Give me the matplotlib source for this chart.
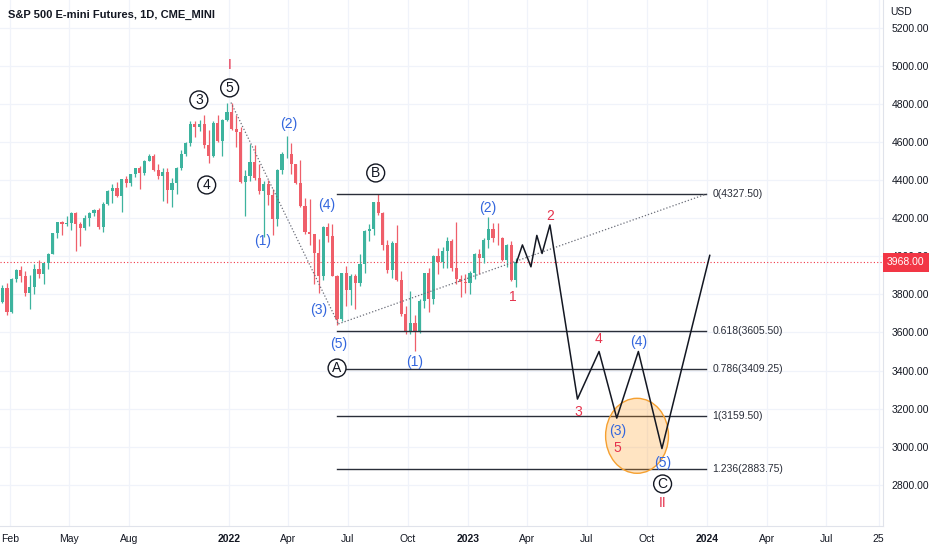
import matplotlib
matplotlib.use('Agg')
import matplotlib.pyplot as plt
import matplotlib.dates as mdates
from matplotlib.patches import Ellipse
import numpy as np
import pandas as pd

plt.rcParams['font.family'] = ['Liberation Sans', 'DejaVu Sans']

# weekly bars (week starting 2021-01-11); open = previous close
first_open = 3800
highs_2021 = [3823, 3850, 3858, 3885, 3934, 3950, 3925, 3903, 3959, 3979, 3966, 4017, 4123,
              4180, 4186, 4211, 4234, 4235, 4182, 4215, 4231, 4249, 4256, 4283, 4348, 4382,
              4393, 4407, 4424, 4433, 4464, 4475, 4506, 4540, 4537, 4486, 4462, 4465, 4410,
              4470, 4557, 4600, 4713, 4713, 4717, 4743, 4666, 4710, 4741, 4723, 4804]
lows_2021 = [3749, 3757, 3694, 3700, 3867, 3864, 3789, 3723, 3801, 3888, 3853, 3935, 4010,
             4098, 4110, 4161, 4140, 4029, 4054, 4138, 4161, 4213, 4146, 4130, 4270, 4279,
             4311, 4233, 4364, 4372, 4416, 4355, 4428, 4500, 4448, 4405, 4290, 4278, 4260,
             4328, 4453, 4527, 4580, 4628, 4659, 4569, 4492, 4523, 4600, 4528, 4713]
closes_2021 = [3762, 3833, 3707, 3880, 3929, 3899, 3808, 3837, 3932, 3906, 3965, 4014, 4122,
               4178, 4172, 4176, 4226, 4168, 4150, 4202, 4226, 4243, 4155, 4276, 4345, 4361,
               4319, 4404, 4387, 4432, 4463, 4436, 4503, 4529, 4454, 4422, 4443, 4348, 4385,
               4463, 4537, 4596, 4693, 4679, 4694, 4586, 4528, 4703, 4608, 4717, 4758]
highs_2022 = [4808, 4745, 4680, 4452, 4591, 4587, 4487, 4397, 4402, 4352, 4460, 4546, 4631,
              4593, 4483, 4508, 4306, 4303, 4120, 4090, 4159, 4177, 4168, 3900, 3913, 3949,
              3905, 3905, 4010, 4140, 4172, 4288, 4327.5, 4232, 4085, 4078, 4163, 3925, 3737,
              3820, 3690, 3776, 3914, 3938, 4009, 4044, 4050, 4100, 4090, 4180, 3900, 3905]
lows_2022 = [4662, 4577, 4385, 4212, 4395, 4402, 4330, 4101, 4270, 4114, 4157, 4431, 4517,
             4432, 4380, 4259, 4120, 4057, 3855, 3807, 3874, 4073, 3895, 3639, 3660, 3738,
             3743, 3722, 3846, 3913, 4080, 4110, 4218, 4032, 3910, 3885, 3870, 3685, 3594,
             3590, 3502, 3596, 3729, 3707, 3747, 3906, 3937, 3938, 3923, 3853, 3788, 3805]
closes_2022 = [4670, 4655, 4389, 4422, 4494, 4410, 4342, 4378, 4321, 4198, 4456, 4536, 4537,
               4483, 4387, 4265, 4128, 4118, 4020, 3899, 4155, 4106, 3898, 3669, 3910, 3823,
               3897, 3860, 3960, 4131, 4146, 4287, 4230, 4061, 3930, 4069, 3878, 3699, 3601,
               3652, 3600, 3765, 3911, 3778, 4000, 3972, 4030, 4078, 3940, 3880, 3867, 3861]
highs_2023 = [3925, 4015, 4038, 4094, 4208, 4175, 4175, 4100, 4065, 4079, 3990]
lows_2023 = [3802, 3880, 3905, 3965, 4045, 4075, 4057, 3978, 3943, 3870, 3839]
closes_2023 = [3915, 4012, 3993, 4087, 4143, 4097, 4094, 3981, 4061, 3874, 3968]

last_price = 3968

# projected path (black zigzag)
proj_dates = ['2023-03-16', '2023-03-25', '2023-04-07', '2023-04-16', '2023-04-24', '2023-05-06',
              '2023-06-17', '2023-07-20', '2023-08-16', '2023-09-18', '2023-10-24', '2024-01-05']
proj_prices = [3968, 4060, 3945, 4110, 4015, 4165, 3250, 3500, 3150, 3500, 2990, 4005]

# fibonacci levels
fib_ratios = ['0', '0.618', '0.786', '1', '1.236']
fib_prices = [4327.50, 3605.50, 3409.25, 3159.50, 2883.75]
fib_start, fib_end = '2022-06-15', '2023-12-31'

# dotted trend lines
dot1_dates, dot1_prices = ['2022-01-04', '2022-06-17'], [4808.25, 3645]
dot2_dates, dot2_prices = ['2022-06-17', '2023-12-31'], [3645, 4327.5]

# wave labels: date, price, text, style
wave_labels = [
    ('2022-01-02', 5005, 'I', 'red'),
    ('2022-01-02', 4885, '5', 'circ'),
    ('2021-11-16', 4822, '3', 'circ'),
    ('2021-11-28', 4375, '4', 'circ'),
    ('2022-02-21', 4080, '(1)', 'blue'),
    ('2022-04-02', 4695, '(2)', 'blue'),
    ('2022-05-18', 3718, '(3)', 'blue'),
    ('2022-05-30', 4270, '(4)', 'blue'),
    ('2022-06-17', 3539, '(5)', 'blue'),
    ('2022-06-15', 3413, 'A', 'circ'),
    ('2022-08-13', 4438, 'B', 'circ'),
    ('2022-10-12', 3445, '(1)', 'blue'),
    ('2023-01-31', 4254, '(2)', 'blue'),
    ('2023-03-10', 3786, '1', 'red'),
    ('2023-05-07', 4212, '2', 'red'),
    ('2023-06-19', 3182, '3', 'red'),
    ('2023-07-19', 3565, '4', 'red'),
    ('2023-09-18', 3550, '(4)', 'blue'),
    ('2023-08-17', 3082, '(3)', 'blue'),
    ('2023-08-17', 2993, '5', 'red'),
    ('2023-10-25', 2914, '(5)', 'blue'),
    ('2023-10-25', 2804, 'C', 'circ'),
    ('2023-10-25', 2704, 'II', 'red'),
]

UP, DOWN = '#3db39e', '#ef5f6a'
BLUE, RED = '#3366dd', '#e5334d'
TXT = '#131722'

highs = np.array(highs_2021 + highs_2022 + highs_2023, dtype=float)
lows = np.array(lows_2021 + lows_2022 + lows_2023, dtype=float)
closes = np.array(closes_2021 + closes_2022 + closes_2023, dtype=float)
opens = np.r_[first_open, closes[:-1]]
weeks = pd.date_range('2021-01-11', periods=len(closes), freq='7D')
xs = mdates.date2num(weeks) + 2

fig = plt.figure(figsize=(9.32, 5.5), dpi=100)
ax = fig.add_axes([0, 24 / 550, 883 / 932, 526 / 550])

day0 = mdates.datestr2num('2022-01-01')
ax.set_xlim(day0 - 349.6, day0 + 998.5)
ax.set_ylim(2583, 5347)

# grid
ax.set_axisbelow(True)
ax.grid(True, color='#f0f3fa', lw=0.9)

# candles
col = np.where(closes >= opens, UP, DOWN)
ax.vlines(xs, lows, highs, colors=col, lw=0.9, zorder=2)
body = np.maximum(np.abs(closes - opens), 4)
ax.bar(xs, body, bottom=np.minimum(opens, closes), width=4.8, color=col, lw=0, zorder=2)

# last price line
ax.axhline(last_price, color='#f23645', ls=(0, (1, 2)), lw=0.8, zorder=1)

# fib lines
fs, fe = mdates.datestr2num(fib_start), mdates.datestr2num(fib_end)
for r, p in zip(fib_ratios, fib_prices):
    ax.plot([fs, fe], [p, p], color='#2a2e39', lw=1, zorder=3)
    ax.text(fe + 9, p, f'{r}({p:.2f})', fontsize=7.5, color='#2a2e39', va='center', ha='left', zorder=6)

# dotted lines
for d, p in [(dot1_dates, dot1_prices), (dot2_dates, dot2_prices)]:
    ax.plot(mdates.datestr2num(d), p, color='#6a6d78', ls=(0, (1, 1.6)), lw=0.9, zorder=3)

# highlight ellipse
ax.add_patch(Ellipse((mdates.datestr2num('2023-09-16'), 3057), width=96, height=394,
                     fc=(1.0, 0.62, 0.15, 0.28), ec='#f5a030', lw=1, zorder=3.5))

# projection
ax.plot(mdates.datestr2num(proj_dates), proj_prices, color=TXT, lw=1.1, zorder=4)

# labels
for d, p, s, kind in wave_labels:
    x = mdates.datestr2num(d)
    if kind == 'circ':
        ax.text(x, p, s, ha='center', va='center', fontsize=10, color=TXT, zorder=7,
                bbox=dict(boxstyle='circle,pad=0.14', fc='white', ec=TXT, lw=1))
    elif kind == 'blue':
        ax.text(x, p, s, ha='center', va='center', fontsize=10, color=BLUE, zorder=7)
    else:
        ax.text(x, p, s, ha='center', va='center', fontsize=10, color=RED, zorder=7)

# time axis
tick_dates = ['2021-02-01', '2021-05-01', '2021-08-01', '2022-01-01', '2022-04-01', '2022-07-01',
              '2022-10-01', '2023-01-01', '2023-04-01', '2023-07-01', '2023-10-01', '2024-01-01',
              '2024-04-01', '2024-07-01', '2024-09-19']
tick_names = ['Feb', 'May', 'Aug', '2022', 'Apr', 'Jul', 'Oct', '2023', 'Apr', 'Jul', 'Oct', '2024',
              'Apr', 'Jul', '25']
ax.set_xticks(mdates.datestr2num(tick_dates))
ax.set_xticklabels(tick_names)
for t in ax.get_xticklabels():
    if t.get_text().startswith('20'):
        t.set_fontweight('bold')
ax.tick_params(axis='x', length=0, pad=6, labelsize=7.5, colors=TXT)

# price axis
ax.yaxis.tick_right()
yt = list(range(2800, 5201, 200))
ax.set_yticks(yt)
ax.set_yticklabels([f'{v:.2f}' for v in yt])
ax.tick_params(axis='y', length=0, pad=6, labelsize=7.5, colors=TXT)

for s in ['top', 'left']:
    ax.spines[s].set_visible(False)
for s in ['right', 'bottom']:
    ax.spines[s].set_color('#e0e3eb')

ax.text(1.0046, last_price, f'{last_price:.2f}', transform=ax.get_yaxis_transform(),
        ha='left', va='center', fontsize=7.5, color='white', clip_on=False, zorder=10,
        bbox=dict(boxstyle='square,pad=0.4', fc='#f23645', ec='none'))

fig.text(890 / 932, 1 - 12 / 550, 'USD', fontsize=7.5, color=TXT, va='center')
fig.text(8 / 932, 1 - 15 / 550, 'S&P 500 E-mini Futures, 1D, CME_MINI', fontsize=8,
         fontweight='bold', color=TXT, va='center')

fig.savefig('out.png', dpi=100)
